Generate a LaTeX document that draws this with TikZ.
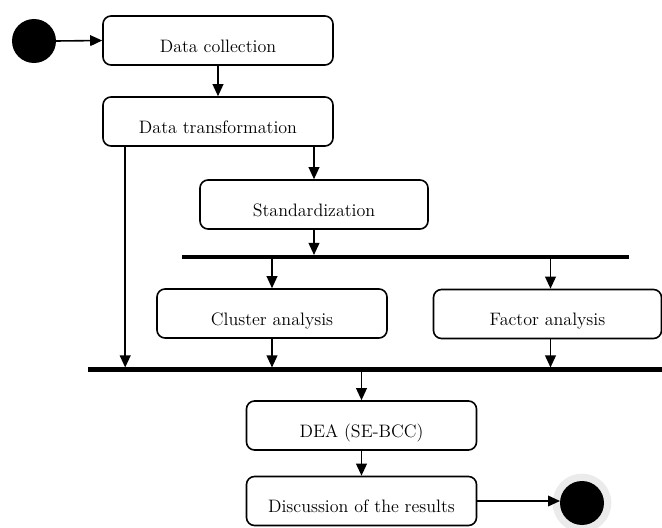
\documentclass[tikz,border=0pt]{standalone}
\usetikzlibrary{arrows.meta}
\begin{document}
\begin{tikzpicture}[x=0.75pt,y=-0.75pt,
  box/.style={draw, rounded corners=6pt, line width=1.2pt, minimum width=172.5pt,
    minimum height=36.75pt, text height=17.5pt, text depth=0pt, inner sep=0pt,
    font=\fontsize{13.5}{16}\selectfont},
  bar/.style={fill=black, draw=none, inner sep=0pt, outer sep=0pt},
  arr/.style={-{Triangle[length=9pt,width=8pt]}, line width=1.2pt},
  startdot/.style={circle, fill=black, draw=none, inner sep=0pt, outer sep=0pt, minimum size=33pt},
  enddot/.style={circle, fill=black, draw=none, inner sep=0pt, outer sep=0pt, minimum size=33pt,
    preaction={draw=black!8, line width=11pt}}]
\useasboundingbox (0,0) rectangle (662,528);

\node[startdot] (start) at (34,41) {};
\node[box] (dc) at (218,40.5) {Data collection};
\node[box] (dt) at (218,121.5) {Data transformation};
\node[box, minimum width=171pt] (st) at (314,204.5) {Standardization};
\node[bar, minimum width=335.25pt, minimum height=3pt] (bar1) at (405.5,257) {};
\node[box] (ca) at (272,313.5) {Cluster analysis};
\node[box, minimum width=171pt] (fa) at (547.5,314) {Factor analysis};
\node[bar, minimum width=430.5pt, minimum height=3.75pt] (bar2) at (375,370) {};
\node[box] (dea) at (361.5,425.5) {DEA (SE-BCC)};
\node[box] (dis) at (361.5,501) {Discussion of the results};
\node[enddot] (end) at (582,503) {};

\draw[arr] (start.east) -- (dc.west);
\draw[arr] (dc) -- (dt);
\coordinate (l1) at ([xshift=17.25pt]dt.south west);
\draw[arr] (l1) -- (l1 |- bar2.north);
\draw[arr] (dt.south -| st.north) -- (st.north);
\draw[arr] (st.south) -- (st.south |- bar1.north);
\draw[arr] (bar1.south -| ca.north) -- (ca.north);
\coordinate (fx) at ([xshift=2.25pt]fa.north);
\draw[arr] (bar1.south -| fx) -- (fx);
\draw[arr] (ca.south) -- (ca.south |- bar2.north);
\coordinate (fy) at ([xshift=2.25pt]fa.south);
\draw[arr] (fy) -- (fy |- bar2.north);
\draw[arr] (bar2.south -| dea.north) -- (dea.north);
\draw[arr] (dea) -- (dis);
\draw[arr] (dis.east) -- (dis.east -| end.west);
\end{tikzpicture}
\end{document}
